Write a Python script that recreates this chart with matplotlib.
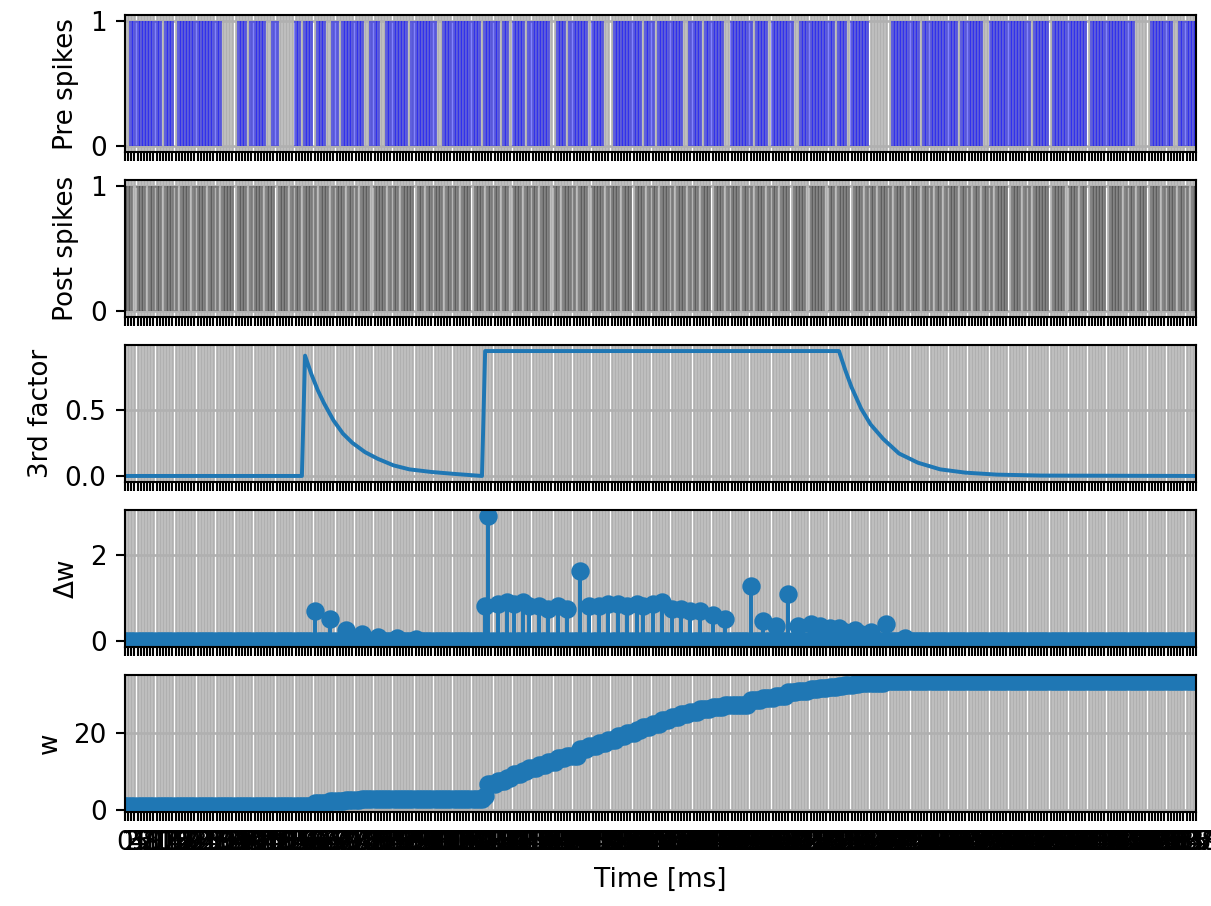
import numpy as np
import matplotlib.pyplot as plt

# one sample per ms
n_steps = 340
time = np.arange(n_steps)

# 1 = spike in that time step (10 steps per chunk)
pre_spikes = ("0011111111" "1101110111" "1111111111" "1000001110" "1111100110"
              "0000110111" "0111001101" "1111110011" "1001111111" "0111111110"
              "0111111111" "1110111110" "1101111011" "1111100111" "0111111011"
              "1100011111" "1111011101" "1111111001" "1110111111" "0011111110"
              "1111011111" "1100111111" "1111101110" "1111110000" "0001111111"
              "1101111111" "1111011111" "1100111111" "1111111011" "1110111111"
              "1111101111" "1111111111" "0000011111" "1100111111")
post_spikes = ("1110111011" "1101111011" "1011110111" "0111101110" "1111011101"
               "1101110111" "1011101111" "0111011101" "1110111011" "1101101111"
               "1011110111" "0111011110" "1101110111" "1011101101" "1110111011"
               "1101111011" "1011101110" "1111011101" "1101110111" "0111101110"
               "1110111011" "1011110111" "1101101111" "0111011101" "1110111011"
               "1101110110" "1111011101" "1011101111" "0111011011" "1110111101"
               "1101101111" "1011110111" "0111011101" "1110111011")

# third factor trace, read at a few points
factor_t = [0, 56, 57, 59, 61, 63, 66, 69, 72, 76, 80, 85, 90, 97, 105, 113,
            114, 226, 228, 230, 233, 236, 240, 245, 251, 258, 266, 276, 290, 339]
factor_v = [0, 0, 0.91, 0.77, 0.65, 0.55, 0.42, 0.32, 0.25, 0.18, 0.13, 0.08,
            0.05, 0.03, 0.014, 0.0, 0.945, 0.945, 0.80, 0.67, 0.51, 0.39, 0.28,
            0.17, 0.10, 0.05, 0.025, 0.01, 0.003, 0.0]

# weight changes (all other steps are 0)
dw_steps = [60, 65, 70, 75, 80, 86, 92,
            114, 115, 118, 121, 123, 126, 128, 131, 134, 137, 140, 144,
            147, 150, 153, 156, 159, 162, 164, 167, 170, 173, 176, 179, 182,
            186, 190, 198, 202, 206, 210, 213, 217, 220, 223, 226, 228, 231,
            233, 236, 241, 247]
dw_vals = [0.7, 0.5, 0.25, 0.15, 0.1, 0.06, 0.04,
           0.8, 2.9, 0.85, 0.9, 0.85, 0.9, 0.8, 0.8, 0.75, 0.8, 0.75, 1.62,
           0.8, 0.8, 0.85, 0.85, 0.8, 0.85, 0.8, 0.85, 0.9, 0.75, 0.75, 0.7, 0.7,
           0.6, 0.5, 1.28, 0.45, 0.35, 1.08, 0.35, 0.4, 0.35, 0.3, 0.3, 0.2, 0.25,
           0.15, 0.2, 0.38, 0.07]
w_start = 1.2

dw = np.zeros(n_steps)
dw[dw_steps] = dw_vals
w = w_start + np.cumsum(dw)

pre_t = time[np.array(list(pre_spikes)) == "1"]
post_t = time[np.array(list(post_spikes)) == "1"]

fig, axs = plt.subplots(5, 1, sharex=True, figsize=(1211 / 189.2, 906 / 189.2), dpi=189.2)
fig.subplots_adjust(left=0.1032, right=0.9876, top=0.9834, bottom=0.1038, hspace=0.2)

axs[0].vlines(pre_t, 0, 1, color="b", alpha=0.5)
axs[0].set_yticks([0, 1])
axs[0].set_ylabel("Pre spikes")

axs[1].vlines(post_t, 0, 1, color="k", alpha=0.3)
axs[1].set_yticks([0, 1])
axs[1].set_ylabel("Post spikes")

axs[2].plot(factor_t, factor_v)
axs[2].set_ylabel("3rd factor")

axs[3].stem(time, dw, basefmt=" ")
axs[3].set_ylabel("Δw")

axs[4].plot(time, w, "o")
axs[4].set_ylabel("w")
axs[4].set_xlabel("Time [ms]")

for ax in axs:
    ax.set_xticks(time)
    ax.grid(True, linewidth=1.0)
axs[4].set_xlim(time[0], time[-1])

plt.savefig("out.png")
